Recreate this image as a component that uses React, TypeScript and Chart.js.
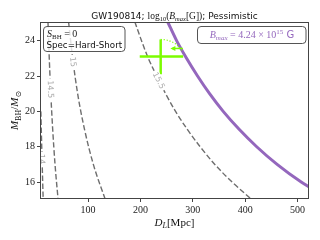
import React, { useEffect, useRef } from "react";
import { Chart, registerables } from "chart.js";
Chart.register(...registerables);

// ---- axes ----
const xTicks = [100, 200, 300, 400, 500];
const yTicks = [16, 18, 20, 22, 24];
const xRange = [10, 520];
const yRange = [15.1, 25.0];

// ---- contour lines of log10(Bmax) (D_L in Mpc vs M_BH/Msun) ----
const c14M = [21, 20, 19, 18, 17, 16, 15];
const c14D = [8.8, 9.7, 10.5, 11.4, 12.3, 13.2, 14.2];
const c145M = [25.5, 25, 23, 21, 19, 17, 15];
const c145D = [22.5, 23.4, 25.8, 28.7, 32.3, 36.8, 42.7];
const c15M = [25.5, 25, 23, 21, 19, 17, 15];
const c15D = [61, 62.9, 70.5, 80, 93, 110, 133];
const c155M = [25.5, 25, 24, 23, 22, 21, 20, 19, 18, 17, 16, 15];
const c155D = [184, 190, 202, 215, 231, 248, 267, 289, 314, 342, 375, 413];
const contourLevels = ["14", "14.5", "15", "15.5"];
const contourLabelM = [17.3, 21.25, 22.8, 21.75];

// ---- Bmax = 4.24e15 G curve ----
const bmaxM = [25.5, 25, 24, 23, 22, 21, 20, 19, 18, 17, 16, 15.5, 15];
const bmaxD = [245, 253, 269, 288, 309, 332, 358, 388, 422, 461, 507, 535, 566];

// ---- GW190814 estimate ----
const obsD = 238.6;
const obsM = 23.1;
const obsDErr = [40, 43];
const obsMErr = [1.0, 0.97];
const arrowM = 23.56;
const arrowD = [281, 261];
const arcD = [238.6, 249.5, 259.6, 268.3, 275, 279];
const arcM = [24.07, 24.04, 23.94, 23.79, 23.59, 23.45];

const SERIF = "'Liberation Serif', 'DejaVu Serif', serif";
const SANS = "'DejaVu Sans', sans-serif";
const PURPLE = "#9467bd";
const GREEN = "#7cfc00";

const pts = (xs: number[], ys: number[]) => xs.map((x, i) => ({ x, y: ys[i] }));

type Run = { t: string; f: string; dy?: number };
function runsWidth(ctx: CanvasRenderingContext2D, runs: Run[]) {
  let w = 0;
  for (const r of runs) {
    ctx.font = r.f;
    w += ctx.measureText(r.t).width;
  }
  return w;
}
function drawRuns(ctx: CanvasRenderingContext2D, runs: Run[], x: number, y: number, align: string, color: string) {
  const w = runsWidth(ctx, runs);
  let cx = align === "center" ? x - w / 2 : align === "right" ? x - w : x;
  ctx.fillStyle = color;
  ctx.textAlign = "left";
  ctx.textBaseline = "alphabetic";
  for (const r of runs) {
    ctx.font = r.f;
    ctx.fillText(r.t, cx, y + (r.dy || 0));
    cx += ctx.measureText(r.t).width;
  }
}
function roundRect(ctx: CanvasRenderingContext2D, x: number, y: number, w: number, h: number, r: number) {
  ctx.beginPath();
  ctx.moveTo(x + r, y);
  ctx.lineTo(x + w - r, y);
  ctx.quadraticCurveTo(x + w, y, x + w, y + r);
  ctx.lineTo(x + w, y + h - r);
  ctx.quadraticCurveTo(x + w, y + h, x + w - r, y + h);
  ctx.lineTo(x + r, y + h);
  ctx.quadraticCurveTo(x, y + h, x, y + h - r);
  ctx.lineTo(x, y + r);
  ctx.quadraticCurveTo(x, y, x + r, y);
  ctx.closePath();
}

const decorPlugin = {
  id: "decor",
  afterDatasetsDraw(chart: any) {
    const ctx: CanvasRenderingContext2D = chart.ctx;
    const a = chart.chartArea;
    const xs = chart.scales.x;
    const ys = chart.scales.y;
    ctx.save();
    ctx.beginPath();
    ctx.rect(a.left, a.top, a.right - a.left, a.bottom - a.top);
    ctx.clip();
    // contour labels
    const lines = [
      [c14D, c14M],
      [c145D, c145M],
      [c15D, c15M],
      [c155D, c155M],
    ];
    lines.forEach(([ds, ms], k) => {
      const m = contourLabelM[k];
      for (let i = 0; i < ms.length - 1; i++) {
        if ((ms[i] - m) * (ms[i + 1] - m) <= 0) {
          const t = (m - ms[i]) / (ms[i + 1] - ms[i]);
          const d = ds[i] + t * (ds[i + 1] - ds[i]);
          const px = xs.getPixelForValue(d);
          const py = ys.getPixelForValue(m);
          const ang = Math.atan2(
            ys.getPixelForValue(ms[i + 1]) - ys.getPixelForValue(ms[i]),
            xs.getPixelForValue(ds[i + 1]) - xs.getPixelForValue(ds[i])
          );
          ctx.save();
          ctx.translate(px, py);
          ctx.rotate(ang);
          ctx.font = `8px ${SANS}`;
          const w = ctx.measureText(contourLevels[k]).width;
          ctx.fillStyle = "#ffffff";
          ctx.fillRect(-w / 2 - 2, -4, w + 4, 8);
          ctx.fillStyle = "#aaaaaa";
          ctx.textAlign = "center";
          ctx.textBaseline = "middle";
          ctx.fillText(contourLevels[k], 0, 0.5);
          ctx.restore();
          break;
        }
      }
    });
    // arrow head for the green arrow
    const ax = xs.getPixelForValue(arrowD[1]);
    const ay = ys.getPixelForValue(arrowM);
    ctx.fillStyle = GREEN;
    ctx.beginPath();
    ctx.moveTo(ax - 2, ay);
    ctx.lineTo(ax + 3, ay - 2.5);
    ctx.lineTo(ax + 3, ay + 2.5);
    ctx.closePath();
    ctx.fill();
    ctx.restore();

    // frame
    ctx.save();
    ctx.strokeStyle = "#444";
    ctx.lineWidth = 1;
    ctx.strokeRect(Math.round(a.left) - 0.5, Math.round(a.top) - 0.5, Math.round(a.right - a.left) + 1, Math.round(a.bottom - a.top) + 1);

    // box 1
    roundRect(ctx, a.left + 2.5, a.top + 3.5, 81.5, 25, 3.5);
    ctx.fillStyle = "rgba(255,255,255,0.8)";
    ctx.fill();
    ctx.strokeStyle = "#555";
    ctx.stroke();
    drawRuns(
      ctx,
      [
        { t: "S", f: `italic 10px ${SERIF}` },
        { t: "BH", f: `7px ${SERIF}`, dy: 2 },
        { t: " = 0", f: `10px ${SERIF}` },
      ],
      a.left + 6,
      a.top + 14,
      "left",
      "#222"
    );
    drawRuns(ctx, [{ t: "Spec=Hard-Short", f: `8.7px ${SANS}` }], a.left + 5.5, a.top + 24.5, "left", "#111");

    // box 2
    roundRect(ctx, a.right - 110.5, a.top + 3.5, 108.5, 17, 3.5);
    ctx.fillStyle = "rgba(255,255,255,0.8)";
    ctx.fill();
    ctx.strokeStyle = "#555";
    ctx.stroke();
    drawRuns(
      ctx,
      [
        { t: "B", f: `italic 10px ${SERIF}` },
        { t: "max", f: `italic 7px ${SERIF}`, dy: 2 },
        { t: " = 4.24 × 10", f: `10px ${SERIF}` },
        { t: "15", f: `7px ${SERIF}`, dy: -4 },
        { t: " G", f: `10px ${SANS}` },
      ],
      a.right - 56,
      a.top + 15,
      "center",
      PURPLE
    );

    // title
    const cxm = (a.left + a.right) / 2;
    drawRuns(
      ctx,
      [
        { t: "GW190814; ", f: `9px ${SANS}` },
        { t: "log", f: `9.5px ${SERIF}` },
        { t: "10", f: `6.5px ${SERIF}`, dy: 2 },
        { t: "(", f: `9.5px ${SERIF}` },
        { t: "B", f: `italic 9.5px ${SERIF}` },
        { t: "max", f: `italic 6.5px ${SERIF}`, dy: 2 },
        { t: "[G])", f: `9.5px ${SERIF}` },
        { t: "; Pessimistic", f: `9px ${SANS}` },
      ],
      cxm,
      a.top - 4,
      "center",
      "#111"
    );
    // x label
    drawRuns(
      ctx,
      [
        { t: "D", f: `italic 11px ${SERIF}` },
        { t: "L", f: `italic 8px ${SERIF}`, dy: 2 },
        { t: "[Mpc]", f: `11px ${SERIF}` },
      ],
      cxm,
      a.bottom + 28,
      "center",
      "#111"
    );
    // y label
    ctx.translate(18, (a.top + a.bottom) / 2);
    ctx.rotate(-Math.PI / 2);
    drawRuns(
      ctx,
      [
        { t: "M", f: `italic 11px ${SERIF}` },
        { t: "BH", f: `8px ${SERIF}`, dy: 2.5 },
        { t: "/", f: `11px ${SERIF}` },
        { t: "M", f: `italic 11px ${SERIF}` },
        { t: "⊙", f: `8px 'DejaVu Sans', sans-serif`, dy: 2.5 },
      ],
      0,
      0,
      "center",
      "#111"
    );
    ctx.restore();
  },
};

export default function App() {
  const ref = useRef<HTMLCanvasElement>(null);
  useEffect(() => {
    document.body.style.margin = "0";
    const dashed = {
      borderColor: "#6e6e6e",
      borderWidth: 1.4,
      borderDash: [5.5, 2.5],
      pointRadius: 0,
      cubicInterpolationMode: "monotone",
      clip: 0,
    };
    const chart = new Chart(ref.current as HTMLCanvasElement, {
      type: "line",
      data: {
        datasets: [
          {
            data: pts([arrowD[0], arrowD[1]], [arrowM, arrowM]),
            borderColor: GREEN,
            borderWidth: 1.5,
            pointRadius: 0,
            clip: 0,
          },
          {
            data: pts([obsD - obsDErr[0], obsD + obsDErr[1]], [obsM, obsM]),
            borderColor: GREEN,
            borderWidth: 2.5,
            pointRadius: 0,
            clip: 0,
          },
          {
            data: pts([obsD, obsD], [obsM - obsMErr[0], obsM + obsMErr[1]]),
            borderColor: GREEN,
            borderWidth: 2.5,
            pointRadius: 0,
            clip: 0,
          },
          {
            data: pts(arcD, arcM),
            borderColor: GREEN,
            borderWidth: 1.2,
            borderDash: [1.2, 1.8],
            pointRadius: 0,
            cubicInterpolationMode: "monotone",
            clip: 0,
          },
          {
            data: pts(bmaxD, bmaxM),
            borderColor: PURPLE,
            borderWidth: 3,
            pointRadius: 0,
            cubicInterpolationMode: "monotone",
            clip: 0,
          },
          { data: pts(c155D, c155M), ...dashed },
          { data: pts(c15D, c15M), ...dashed },
          { data: pts(c145D, c145M), ...dashed },
          { data: pts(c14D, c14M), ...dashed },
        ] as any,
      },
      options: {
        animation: false,
        responsive: false,
        devicePixelRatio: 1,
        parsing: false as any,
        layout: { padding: { left: 0, right: 12, top: 23, bottom: 0 } },
        plugins: { legend: { display: false }, tooltip: { enabled: false }, title: { display: false } },
        scales: {
          x: {
            type: "linear",
            min: xRange[0],
            max: xRange[1],
            afterBuildTicks: (s: any) => {
              s.ticks = xTicks.map((v) => ({ value: v }));
            },
            afterFit: (s: any) => {
              s.height = 42;
            },
            grid: { drawOnChartArea: false, drawTicks: true, tickLength: 4, color: "#444" },
            border: { display: false },
            ticks: { font: { family: SERIF, size: 10 }, color: "#222", padding: 2, maxRotation: 0 },
          },
          y: {
            type: "linear",
            min: yRange[0],
            max: yRange[1],
            afterBuildTicks: (s: any) => {
              s.ticks = yTicks.map((v) => ({ value: v }));
            },
            afterFit: (s: any) => {
              s.width = 41;
            },
            grid: { drawOnChartArea: false, drawTicks: true, tickLength: 4, color: "#444" },
            border: { display: false },
            ticks: { font: { family: SERIF, size: 10 }, color: "#222", padding: 2 },
          },
        },
      } as any,
      plugins: [decorPlugin],
    });
    return () => chart.destroy();
  }, []);
  return (
    <div style={{ position: "fixed", left: 0, top: 0, width: 320, height: 240, background: "#fff" }}>
      <canvas ref={ref} width={320} height={240} style={{ width: 320, height: 240, display: "block" }} />
    </div>
  );
}
